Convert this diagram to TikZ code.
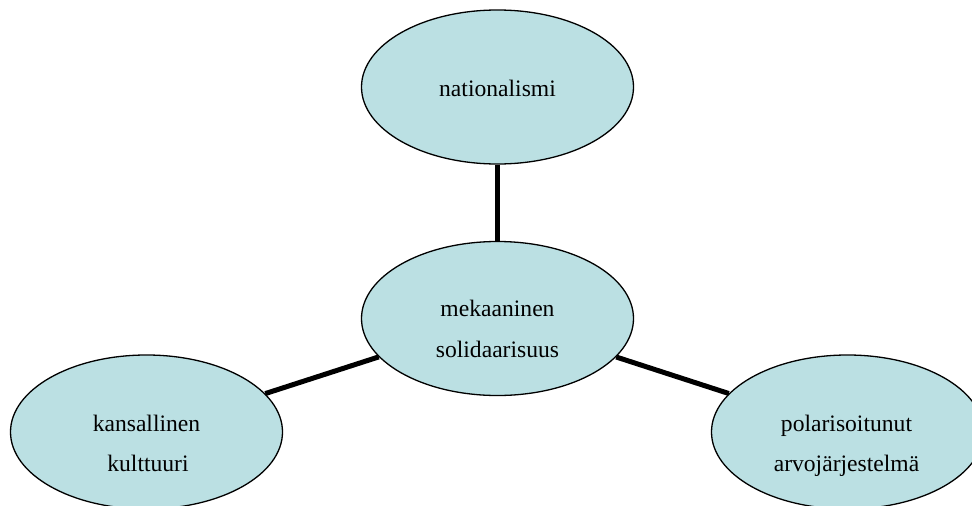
\documentclass[tikz,border=0pt]{standalone}
\usepackage{fontspec}
\setmainfont{Liberation Serif}
\usetikzlibrary{shapes.geometric}
\definecolor{bubble}{HTML}{BBE0E3}
\tikzset{
  bubble/.style={ellipse, draw=black, line width=1.3pt, fill=bubble, minimum width=272pt, minimum height=154pt, inner sep=0pt},
  word/.style={anchor=base, inner sep=0pt, font=\fontsize{23.6}{28}\selectfont},
  link/.style={line width=5pt, draw=black}
}
\begin{document}
\begin{tikzpicture}[x=1pt,y=-1pt]
\useasboundingbox (0,0) rectangle (972,506);
\begin{scope}
\clip (0,0) rectangle (972,506);
\node[bubble] (top) at (497.5,87) {};
\node[bubble] (mid) at (497.5,318.5) {};
\node[bubble] (left) at (146.5,432) {};
\node[bubble] (right) at (847.5,432) {};
\draw[link] (top) -- (mid);
\draw[link] (mid) -- (left);
\draw[link] (mid) -- (right);
\end{scope}
\node[word] (t1) at (497.5,96.7) {nationalismi};
\node[word] (m1) at (497.5,316.5) {mekaaninen};
\node[word] (m2) at (497.5,357.7) {solidaarisuus};
\node[word] (l1) at (146.5,431.7) {kansallinen};
\node[word] (l2) at (148,471.7) {kulttuuri};
\node[word] (r1) at (846.5,431.7) {polarisoitunut};
\node[word] (r2) at (846.5,471.7) {arvojärjestelmä};
\end{tikzpicture}
\end{document}
